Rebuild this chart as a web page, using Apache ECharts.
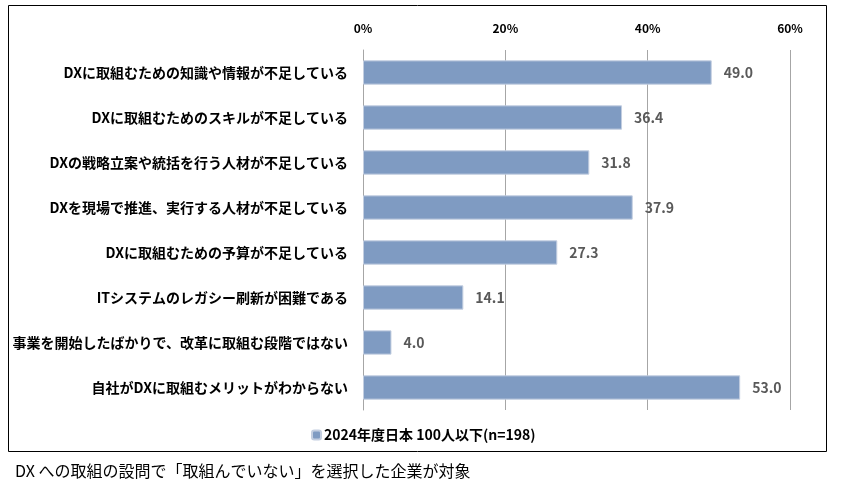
<!DOCTYPE html>
<html lang="ja">
<head>
    <meta charset="UTF-8">
    <title>DX課題</title>
    <style>
        html, body { margin: 0; padding: 0; background: #fff; }
        #main { width: 841px; height: 484px; }
    </style>
</head>
<body>
    <div id="main"></div>
    <script src="https://cdn.jsdelivr.net/npm/echarts@6/dist/echarts.min.js"></script>
    <script>
        var categories = [
            'DXに取組むための知識や情報が不足している',
            'DXに取組むためのスキルが不足している',
            'DXの戦略立案や統括を行う人材が不足している',
            'DXを現場で推進、実行する人材が不足している',
            'DXに取組むための予算が不足している',
            'ITシステムのレガシー刷新が困難である',
            '事業を開始したばかりで、改革に取組む段階ではない',
            '自社がDXに取組むメリットがわからない'
        ];
        var values = [49.0, 36.4, 31.8, 37.9, 27.3, 14.1, 4.0, 53.0];
        var seriesName = '2024年度日本 100人以下(n=198)';
        var footnote = 'DX への取組の設問で「取組んでいない」を選択した企業が対象';

        var font = '"Noto Sans CJK JP", "Noto Sans", sans-serif';
        var myChart = echarts.init(document.getElementById('main'));

        var option = {
            animation: false,
            textStyle: { fontFamily: font },
            grid: { left: 363, right: 51, top: 50, bottom: 74 },
            xAxis: {
                type: 'value',
                position: 'top',
                min: 0,
                max: 60,
                interval: 20,
                axisLine: { show: false },
                axisTick: { show: false },
                axisLabel: {
                    formatter: '{value}%',
                    color: '#000',
                    fontWeight: 'bold',
                    fontSize: 12,
                    margin: 16
                },
                splitLine: { lineStyle: { color: '#a6a6a6', width: 1 } }
            },
            yAxis: {
                type: 'category',
                inverse: true,
                data: categories,
                axisLine: { show: true, lineStyle: { color: '#a6a6a6' } },
                axisTick: { show: false },
                axisLabel: {
                    color: '#000',
                    fontWeight: 'bold',
                    fontSize: 14,
                    margin: 15
                }
            },
            legend: {
                left: 306,
                top: 423,
                itemWidth: 9,
                itemHeight: 9,
                itemGap: 4,
                textStyle: { color: '#000', fontWeight: 'bold', fontSize: 14, padding: [0, 0, 0, -2] },
                data: [seriesName]
            },
            title: {
                text: footnote,
                left: 10,
                top: 458,
                textStyle: { fontSize: 16, fontWeight: 'normal', color: '#000', fontFamily: font }
            },
            graphic: [{
                type: 'rect',
                shape: { x: 8.5, y: 5.5, width: 818, height: 446 },
                style: { fill: 'none', stroke: '#000', lineWidth: 1 },
                silent: true
            }],
            series: [{
                name: seriesName,
                type: 'bar',
                data: values,
                barCategoryGap: '46%',
                itemStyle: { color: '#7f9bc2', borderColor: '#c3cee0', borderWidth: 1 },
                label: {
                    show: true,
                    position: 'right',
                    distance: 12,
                    color: '#595959',
                    fontWeight: 'bold',
                    fontSize: 14,
                    formatter: function (p) { return p.value.toFixed(1); }
                }
            }]
        };

        myChart.setOption(option);
    </script>
</body>
</html>
